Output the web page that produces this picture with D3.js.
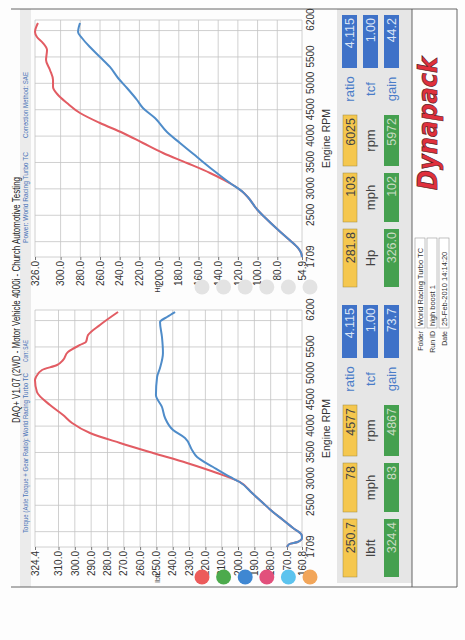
<!DOCTYPE html>
<html>
<head>
<meta charset="utf-8">
<script src="https://d3js.org/d3.v7.min.js"></script>
<style>
body { margin: 0; background: #fff; }
text { font-family: "Liberation Sans Narrow", "Arial Narrow", "Liberation Sans", sans-serif; }
</style>
</head>
<body>
<div id="chart"></div>
<script>
// values
var rpmTicks = [1709, 2500, 3000, 3500, 4000, 4500, 5000, 5500, 6200];
var rpmGrid = [2000, 2500, 3000, 3500, 4000, 4500, 5000, 5500, 6000];

var torqueTicks = [160.8, 170, 180, 190, 200, 210, 220, 230, 240, 250, 260, 270, 280, 290, 300, 310, 324.4];
var hpTicks = [54.9, 80, 100, 120, 140, 160, 180, 200, 220, 240, 260, 280, 300, 326];

var torqueRpmRed = [1709, 1766, 1804, 1880, 1936, 2069, 2221, 2372, 2543, 2732, 2941, 3111, 3301, 3490, 3680, 3869, 4059, 4210, 4400, 4646, 4867, 4930, 5063, 5158, 5253, 5404, 5537, 5594, 5726, 5916, 6162];
var torqueRed = [170.0, 168.5, 163.5, 160.8, 161.0, 166.3, 172.4, 178.6, 184.7, 191.4, 199.0, 212.9, 231.3, 252.1, 272.3, 290.7, 301.7, 307.2, 315.2, 323.2, 324.4, 323.8, 320.1, 310.9, 307.2, 304.2, 296.8, 293.2, 291.9, 284.6, 273.5];

var torqueRpmBlue = [1709, 1766, 1804, 1880, 1936, 2069, 2221, 2372, 2543, 2732, 2941, 3036, 3225, 3414, 3547, 3774, 3926, 4153, 4362, 4590, 4930, 5101, 5385, 5688, 5973, 6068, 6162];
var torqueBlue = [170.0, 168.5, 163.5, 160.8, 161.0, 166.3, 172.4, 178.6, 184.7, 191.4, 199.0, 204.9, 215.3, 225.1, 228.2, 232.5, 239.8, 244.7, 246.6, 250.3, 249.6, 247.8, 246.0, 246.6, 247.8, 243.5, 238.6];

var hpRpmRed = [1709, 1785, 1880, 2031, 2221, 2467, 2600, 2846, 2941, 3073, 3301, 3490, 3680, 3869, 4059, 4248, 4438, 4627, 4779, 4930, 5063, 5253, 5442, 5632, 5764, 5878, 5972, 6143];
var hpRed = [54.9, 55.8, 59.0, 67.5, 79.0, 93.0, 100.0, 110.0, 115.0, 125.0, 148.3, 171.7, 196.0, 216.4, 236.7, 260.0, 280.3, 293.5, 302.6, 307.7, 307.7, 310.8, 314.8, 313.8, 317.9, 324.0, 326.0, 323.0];

var hpRpmBlue = [1709, 1785, 1880, 2031, 2221, 2467, 2600, 2846, 2941, 3111, 3358, 3604, 3869, 4078, 4343, 4533, 4684, 4911, 5101, 5310, 5499, 5688, 5859, 5973, 6143];
var hpBlue = [54.9, 55.8, 59.0, 67.5, 79.0, 93.0, 100.0, 110.0, 115.0, 128.0, 145.3, 161.5, 178.8, 192.0, 204.2, 216.4, 222.4, 232.6, 241.7, 249.9, 260.0, 270.2, 278.3, 282.3, 280.3];

// readout boxes
var unitNames = ["lbft", "Hp"];
var yellowValues = [["250.7", "78", "4577"], ["281.8", "103", "6025"]];
var greenValues = [["324.4", "83", "4867"], ["326.0", "102", "5972"]];
var blueValues = [["4.115", "1.00", "73.7"], ["4.115", "1.00", "44.2"]];
var blueNames = ["ratio", "tcf", "gain"];

var title = "DAQ+ V1.07 (2WD - Motor Vehicle 4000i - Church Automotive Testing";
var folderLabels = ["Folder", "Run ID", "Date"];
var folderValues = ["World Racing Turbo TC", "high boost 1", "25-Feb-2010 14:14:20"];

var legendColors = ["#ec5b5b", "#4caa4c", "#3f87d2", "#e2507c", "#5cc3ee", "#f2a65a"];
var redLine = "#e25c63";
var blueLine = "#4f8cc9";

var width = 465;
var height = 640;

var svg = d3.select("#chart")
    .append("svg")
    .attr("width", width)
    .attr("height", height);

svg.append("rect")
    .attr("width", width)
    .attr("height", height)
    .attr("fill", "#fdfdfd");

// the sheet is printed landscape: draw in a 640x465 group turned a quarter left
var page = svg.append("g")
    .attr("transform", "translate(0," + height + ") rotate(-90)");

// header band and readout band
page.append("rect").attr("x", 53).attr("y", 20).attr("width", 578).attr("height", 11).attr("fill", "#ebebeb");
page.append("rect").attr("x", 57).attr("y", 337).attr("width", 574).attr("height", 75).attr("fill", "#e6e6e6");

// page frame
var frame = [[53, 11, 53, 457], [631, 11, 631, 457], [53, 412, 631, 412], [53, 457, 631, 457]];
page.selectAll(".frame")
    .data(frame)
    .enter()
    .append("line")
    .attr("x1", function(d) { return d[0]; })
    .attr("y1", function(d) { return d[1]; })
    .attr("x2", function(d) { return d[2]; })
    .attr("y2", function(d) { return d[3]; })
    .attr("stroke", "#555")
    .attr("stroke-width", 0.9);

page.append("text")
    .text(title)
    .attr("x", 217)
    .attr("y", 20)
    .attr("font-size", "11px")
    .attr("fill", "#222")
    .attr("textLength", 246)
    .attr("lengthAdjust", "spacingAndGlyphs");

var subtitles = [
    ["Torque (Axle Torque + Gear Ratio): World Racing Turbo TC", 107, 160],
    ["Corr: SAE", 278, 22],
    ["Power: World Racing Turbo TC", 397, 91],
    ["Correction Method: SAE", 502, 66]
];
page.selectAll(".sub")
    .data(subtitles)
    .enter()
    .append("text")
    .text(function(d) { return d[0]; })
    .attr("x", function(d) { return d[1]; })
    .attr("y", 28)
    .attr("font-size", "7px")
    .attr("fill", "#4a73b8")
    .attr("textLength", function(d) { return d[2]; })
    .attr("lengthAdjust", "spacingAndGlyphs");

var panels = [
    { x0: 93, domain: [160.8, 324.4], ticks: torqueTicks, unit: "lbft",
      red: [torqueRpmRed, torqueRed], blue: [torqueRpmBlue, torqueBlue], legend: true },
    { x0: 383, domain: [54.9, 326], ticks: hpTicks, unit: "Hp",
      red: [hpRpmRed, hpRed], blue: [hpRpmBlue, hpBlue], legend: false }
];

var plotW = 237;
var plotTop = 35;
var plotBottom = 302;

panels.forEach(function(p, i) {
    var x = d3.scaleLinear().domain([1709, 6200]).range([p.x0, p.x0 + plotW]);
    var y = d3.scaleLinear().domain(p.domain).range([plotBottom, plotTop]);
    var g = page.append("g");

    g.append("rect")
        .attr("x", p.x0)
        .attr("y", plotTop)
        .attr("width", plotW)
        .attr("height", plotBottom - plotTop)
        .attr("fill", "#fff");

    g.selectAll(".vg")
        .data(rpmGrid.concat([1709, 6200]))
        .enter()
        .append("line")
        .attr("x1", function(d) { return x(d); })
        .attr("x2", function(d) { return x(d); })
        .attr("y1", plotTop)
        .attr("y2", plotBottom)
        .attr("stroke", "#c4c4c4")
        .attr("stroke-width", 0.8);

    g.selectAll(".hg")
        .data(p.ticks)
        .enter()
        .append("line")
        .attr("x1", p.x0)
        .attr("x2", p.x0 + plotW)
        .attr("y1", function(d) { return y(d); })
        .attr("y2", function(d) { return y(d); })
        .attr("stroke", "#c4c4c4")
        .attr("stroke-width", 0.8);

    var yAxis = g.append("g")
        .attr("transform", "translate(" + p.x0 + ",0)")
        .call(d3.axisLeft(y).tickValues(p.ticks).tickFormat(d3.format(".1f")).tickSize(3).tickPadding(1));
    var xAxis = g.append("g")
        .attr("transform", "translate(0," + plotBottom + ")")
        .call(d3.axisBottom(x).tickValues(rpmTicks).tickFormat(d3.format("d")).tickSize(0).tickPadding(5));
    [yAxis, xAxis].forEach(function(a) {
        a.select(".domain").remove();
        a.selectAll("line").attr("stroke", "#777");
        a.selectAll("text").attr("font-size", "10px").attr("fill", "#333")
            .style("font-family", "'Liberation Sans Narrow', 'Arial Narrow', sans-serif");
    });

    g.append("text")
        .text("Engine RPM")
        .attr("x", p.x0 + plotW / 2)
        .attr("y", 330)
        .attr("text-anchor", "middle")
        .attr("font-size", "10.5px")
        .attr("fill", "#333");

    g.append("text")
        .text(p.unit)
        .attr("x", p.x0 - 31)
        .attr("y", 160)
        .attr("text-anchor", "middle")
        .attr("font-size", "7px")
        .attr("fill", "#333");

    g.selectAll(".dot")
        .data(legendColors)
        .enter()
        .append("circle")
        .attr("cx", p.x0 - 30)
        .attr("cy", function(d, j) { return 202 + j * 21.6; })
        .attr("r", 7.5)
        .attr("fill", function(d) { return p.legend ? d : "#e3e3e3"; });

    var line = d3.line()
        .x(function(d) { return x(d[0]); })
        .y(function(d) { return y(d[1]); })
        .curve(d3.curveMonotoneX);

    [[p.red, redLine], [p.blue, blueLine]].forEach(function(s) {
        g.append("path")
            .datum(d3.zip(s[0][0], s[0][1]))
            .attr("d", line)
            .attr("fill", "none")
            .attr("stroke", s[1])
            .attr("stroke-width", 2)
            .attr("stroke-linejoin", "round");
    });

    // readout boxes
    var cols = [[-30, 58], [35, 49], [91, 51]];
    var words = [unitNames[i], "mph", "rpm"];
    cols.forEach(function(c, k) {
        g.append("rect").attr("x", p.x0 + c[0]).attr("y", 343).attr("width", c[1]).attr("height", 14)
            .attr("fill", "#f5c74e").attr("stroke", "#a08a40").attr("stroke-width", 0.5);
        g.append("rect").attr("x", p.x0 + c[0]).attr("y", 384).attr("width", c[1]).attr("height", 15)
            .attr("fill", "#45a04f");
        g.append("text").text(yellowValues[i][k])
            .attr("x", p.x0 + c[0] + c[1] - 3).attr("y", 354.5)
            .attr("text-anchor", "end").attr("font-size", "12.5px").attr("fill", "#444");
        g.append("text").text(greenValues[i][k])
            .attr("x", p.x0 + c[0] + c[1] - 3).attr("y", 396)
            .attr("text-anchor", "end").attr("font-size", "12.5px").attr("fill", "#c9dcc2");
        g.append("text").text(words[k])
            .attr("x", p.x0 + c[0] + c[1] / 2).attr("y", 375)
            .attr("text-anchor", "middle").attr("font-size", "13px").attr("fill", "#444");
    });
    blueNames.forEach(function(n, k) {
        var top = [342, 363, 384][k];
        g.append("rect").attr("x", p.x0 + 189).attr("y", top).attr("width", 53).attr("height", 15)
            .attr("fill", "#3f72c8");
        g.append("text").text(blueValues[i][k])
            .attr("x", p.x0 + 239).attr("y", top + 11.5)
            .attr("text-anchor", "end").attr("font-size", "12.5px").attr("fill", "#dbe5f6");
        g.append("text").text(n)
            .attr("x", p.x0 + 168).attr("y", top + 11.5)
            .attr("text-anchor", "middle").attr("font-size", "13px").attr("fill", "#4a7cc8");
    });
});

// run info
folderLabels.forEach(function(l, k) {
    var base = [423, 435, 447][k];
    page.append("rect").attr("x", 312).attr("y", base - 8).attr("width", 90).attr("height", 10)
        .attr("fill", "#fff").attr("stroke", "#999").attr("stroke-width", 0.6);
    page.append("text").text(l)
        .attr("x", 309).attr("y", base)
        .attr("text-anchor", "end").attr("font-size", "7px").attr("fill", "#333")
        .style("font-family", "'Liberation Sans', Arial, sans-serif");
    page.append("text").text(folderValues[k])
        .attr("x", 314).attr("y", base)
        .attr("font-size", "7.5px").attr("fill", "#333")
        .style("font-family", "'Liberation Sans', Arial, sans-serif");
});

// logo
page.append("text")
    .text("Dynapack")
    .attr("x", 450)
    .attr("y", 437)
    .attr("font-size", "26px")
    .attr("font-weight", "bold")
    .attr("font-style", "italic")
    .attr("fill", "#e0303c")
    .attr("stroke", "#5a1a1e")
    .attr("stroke-width", 0.7)
    .attr("textLength", 133)
    .attr("lengthAdjust", "spacingAndGlyphs")
    .style("font-family", "'DejaVu Sans', sans-serif");
</script>
</body>
</html>
